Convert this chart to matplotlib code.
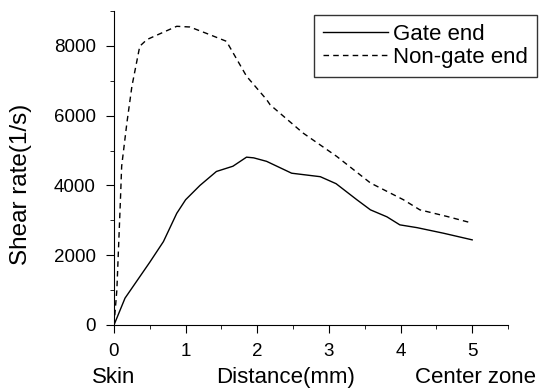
import matplotlib
matplotlib.use("Agg")
import matplotlib.pyplot as plt
from matplotlib.ticker import MultipleLocator

plt.rcParams['font.family'] = ['Liberation Sans', 'DejaVu Sans']

# gate end (solid)
gate_x = [0, 0.154, 0.5, 0.69, 0.876, 1.0, 1.2, 1.43, 1.66, 1.85, 1.95, 2.13,
          2.48, 2.88, 3.1, 3.39, 3.58, 3.81, 3.99, 4.23, 4.6, 5.0]
gate_y = [0, 770, 1800, 2390, 3200, 3590, 4000, 4400, 4550, 4810, 4790, 4690,
          4350, 4250, 4050, 3590, 3300, 3100, 2870, 2790, 2630, 2440]

# non-gate end (dashed)
nongate_x = [0, 0.04, 0.09, 0.107, 0.18, 0.25, 0.36, 0.46, 0.7, 0.876, 1.06,
             1.3, 1.57, 1.85, 2.13, 2.18, 2.64, 3.11, 3.58, 4.04, 4.27, 4.65, 5.0]
nongate_y = [0, 1000, 3590, 4550, 5790, 6840, 7990, 8180, 8400, 8560, 8540,
             8350, 8130, 7130, 6460, 6310, 5500, 4830, 4070, 3590, 3300, 3110, 2920]

fig = plt.figure(figsize=(5.41, 3.91), dpi=100)
ax = fig.add_axes([0.2107, 0.1688, 0.939 - 0.2107, 0.972 - 0.1688])

ax.plot(gate_x, gate_y, color='black', lw=1.0, label='Gate end')
ax.plot(nongate_x, nongate_y, color='black', lw=1.0, ls=(0, (4, 3)), label='Non-gate end')

ax.set_xlim(0, 5.5)
ax.set_ylim(0, 9000)
ax.spines['top'].set_visible(False)
ax.spines['right'].set_visible(False)
ax.xaxis.set_major_locator(MultipleLocator(1))
ax.xaxis.set_minor_locator(MultipleLocator(0.5))
ax.yaxis.set_major_locator(MultipleLocator(2000))
ax.yaxis.set_minor_locator(MultipleLocator(1000))
ax.tick_params(which='major', length=6, labelsize=13.5, direction='out')
ax.tick_params(which='minor', length=3, direction='out')
ax.tick_params(axis='x', which='major', pad=7)
ax.tick_params(axis='y', which='major', pad=7)
ax.set_ylabel('Shear rate(1/s)', fontsize=17.5)
ax.yaxis.set_label_coords(-0.208, 0.449)

tr = ax.get_xaxis_transform()
ax.text(0, -0.166, 'Skin', transform=tr, ha='center', va='center', fontsize=16)
ax.text(2.4, -0.166, 'Distance(mm)', transform=tr, ha='center', va='center', fontsize=16)
ax.text(5.05, -0.166, 'Center zone', transform=tr, ha='center', va='center', fontsize=16)

leg = ax.legend(loc='upper right', bbox_to_anchor=(537 / 541, 1 - 15 / 391),
                bbox_transform=fig.transFigure, borderaxespad=0, fancybox=False,
                edgecolor='black', fontsize=16, handlelength=2.9,
                handletextpad=0.25, labelspacing=0.1, borderpad=0.4)
leg.get_frame().set_linewidth(1.0)

fig.savefig('out.png', dpi=100)
